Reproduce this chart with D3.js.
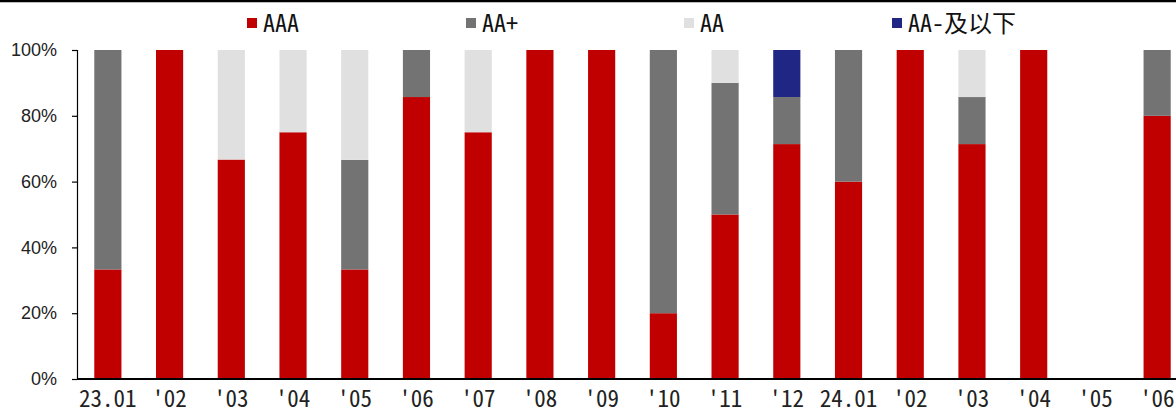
<!DOCTYPE html>
<html>
<head>
<meta charset="utf-8">
<script src="https://cdn.jsdelivr.net/npm/d3@7"></script>
<style>
  html, body { margin: 0; padding: 0; background: #fff; }
  svg { display: block; }
</style>
</head>
<body>
<svg id="chart" width="1176" height="414"></svg>
<script>
// Monthly issuance mix by rating (share of count, %)
const categories = ["23.01", "'02", "'03", "'04", "'05", "'06", "'07", "'08", "'09", "'10", "'11", "'12",
                    "24.01", "'02", "'03", "'04", "'05", "'06"];
const seriesNames = ["AAA", "AA+", "AA", "AA-及以下"];
const aaa     = [33.3, 100, 66.7, 75, 33.3, 85.7, 75, 100, 100, 20, 50, 71.4, 60, 100, 71.4, 100, 0, 80];
const aaPlus  = [66.7, 0, 0, 0, 33.3, 14.3, 0, 0, 0, 80, 40, 14.3, 40, 0, 14.3, 0, 0, 20];
const aa      = [0, 0, 33.3, 25, 33.4, 0, 25, 0, 0, 0, 10, 0, 0, 0, 14.3, 0, 0, 0];
const aaMinus = [0, 0, 0, 0, 0, 0, 0, 0, 0, 0, 0, 14.3, 0, 0, 0, 0, 0, 0];
const yTicks  = [0, 20, 40, 60, 80, 100];
const colors  = ["#C00000", "#737373", "#E0E0E0", "#1F2683"];

const cjkMono = "'Noto Sans Mono CJK SC', 'Liberation Mono', 'Noto Sans CJK SC', monospace";

const svg = d3.select("#chart");

// one row per month, keyed by index so repeated month labels stay distinct
const rows = categories.map((c, i) => ({
  i, label: c,
  "AAA": aaa[i], "AA+": aaPlus[i], "AA": aa[i], "AA-及以下": aaMinus[i]
}));

const x = d3.scaleBand()
  .domain(rows.map(d => d.i))
  .range([77, 1188])
  .paddingInner(0.56)
  .paddingOuter(0.28);

const y = d3.scaleLinear().domain([0, 100]).range([379, 50]);

const stacked = d3.stack().keys(seriesNames)(rows);

// frame line along the top
svg.append("line")
  .attr("x1", 0).attr("x2", 1176).attr("y1", 1).attr("y2", 1)
  .attr("stroke", "#000").attr("stroke-width", 2.5);

// bars
svg.append("g").selectAll("g")
  .data(stacked)
  .join("g")
  .attr("fill", (d, k) => colors[k])
  .selectAll("rect")
  .data(d => d)
  .join("rect")
  .attr("x", d => x(d.data.i))
  .attr("width", x.bandwidth())
  .attr("y", d => y(d[1]))
  .attr("height", d => Math.max(0, y(d[0]) - y(d[1])));

// y axis
const yAxis = svg.append("g")
  .attr("transform", "translate(77,0)")
  .call(d3.axisLeft(y).tickValues(yTicks).tickSize(5).tickSizeOuter(5).tickPadding(15)
    .tickFormat(d => d + "%"));
yAxis.select(".domain").attr("stroke", "#000").attr("stroke-width", 1.2);
yAxis.selectAll(".tick line").attr("stroke", "#000").attr("stroke-width", 1.2);
yAxis.selectAll("text")
  .attr("font-family", "'Liberation Sans', Arial, sans-serif")
  .attr("font-size", 18)
  .attr("fill", "#222");

// x axis
const xAxis = svg.append("g")
  .attr("transform", "translate(0,379)")
  .call(d3.axisBottom(x).tickSize(0).tickSizeOuter(0).tickPadding(12)
    .tickFormat(i => categories[i]));
xAxis.select(".domain").attr("stroke", "#000").attr("stroke-width", 2.2)
  .attr("d", "M77,0H1176");
xAxis.selectAll("text")
  .attr("font-family", cjkMono)
  .attr("font-size", 23)
  .attr("fill", "#222");

// legend
const legendX = [247, 466, 684, 892];
const legend = svg.append("g")
  .selectAll("g")
  .data(seriesNames)
  .join("g")
  .attr("transform", (d, k) => `translate(${legendX[k]},0)`);
legend.append("rect")
  .attr("x", 0).attr("y", 18).attr("width", 10).attr("height", 10)
  .attr("fill", (d, k) => colors[k]);
legend.append("text")
  .attr("x", 16).attr("y", 32)
  .attr("font-family", cjkMono)
  .attr("font-size", 24)
  .attr("fill", "#111")
  .text(d => d);
</script>
</body>
</html>
